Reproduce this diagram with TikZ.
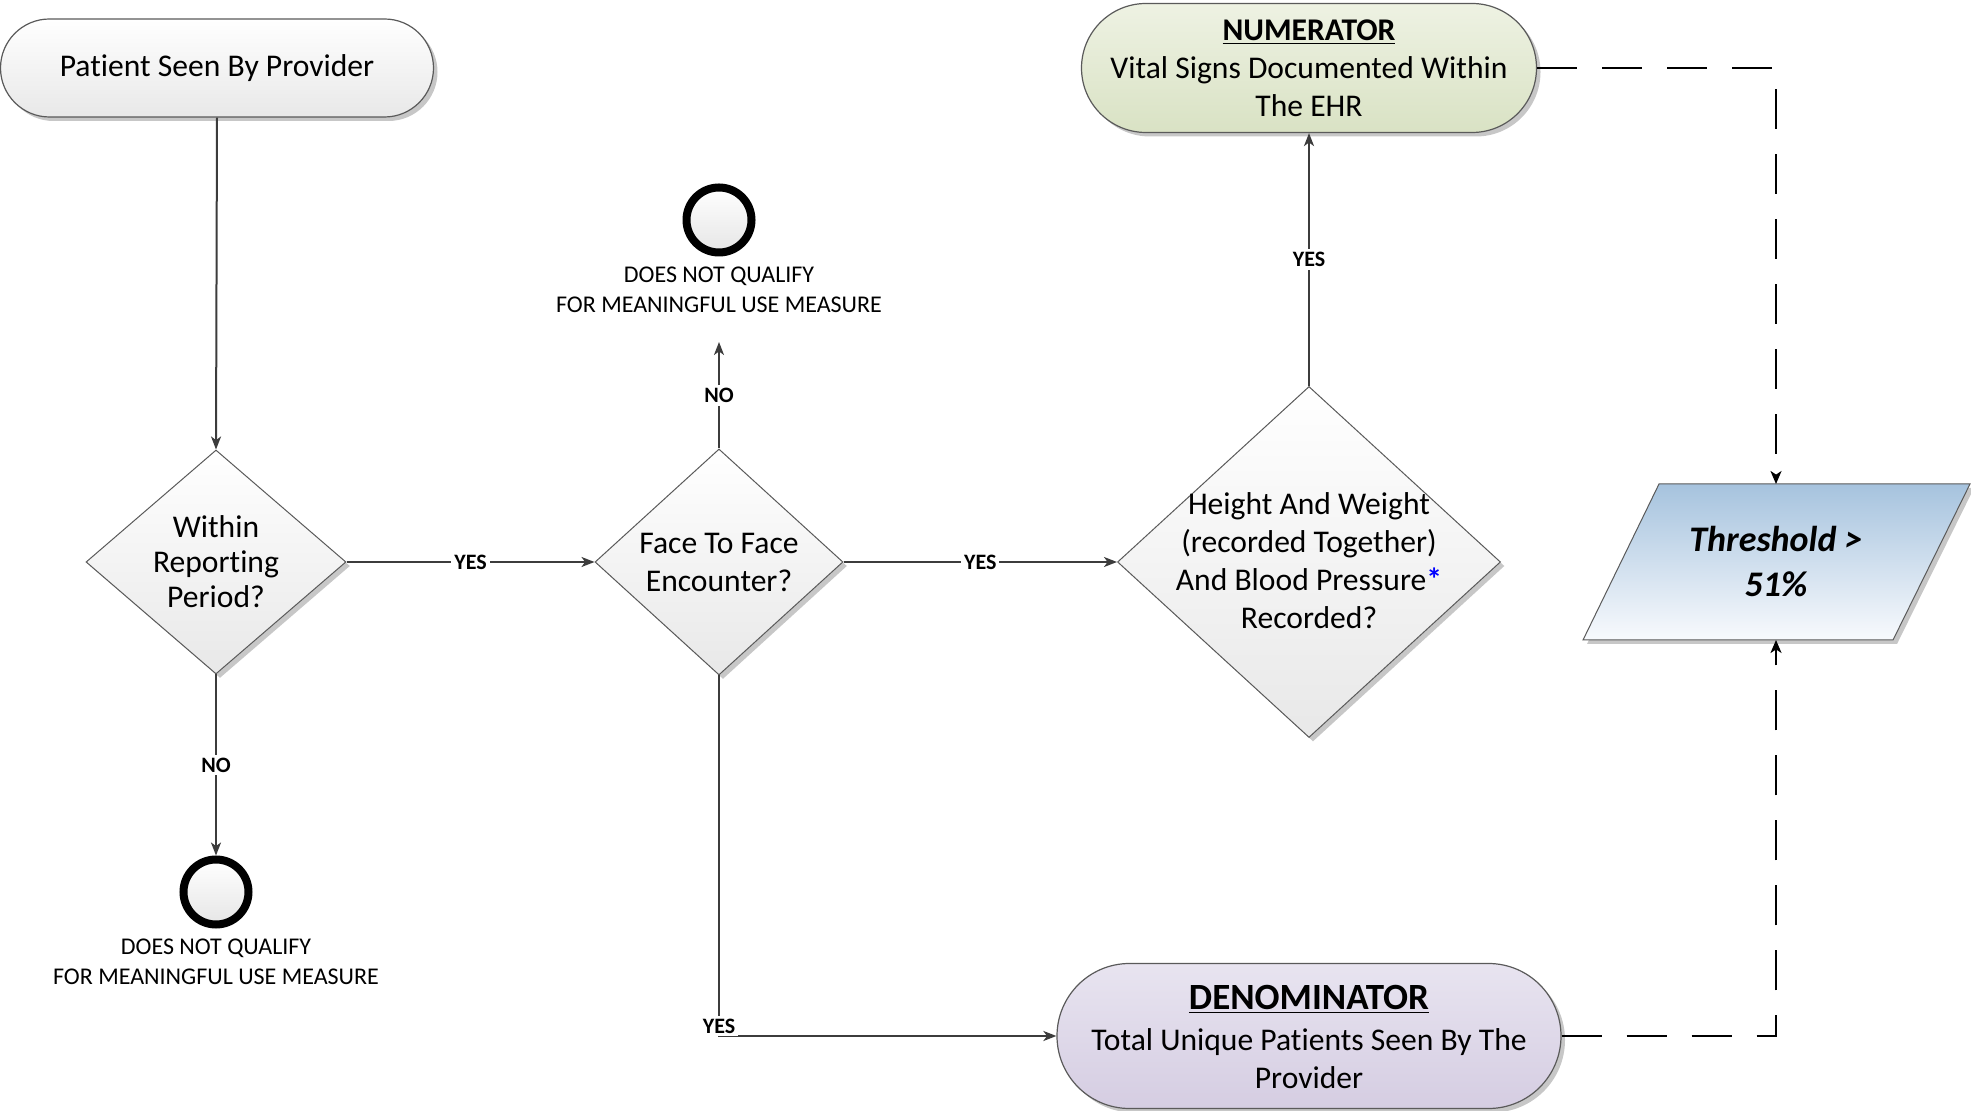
\documentclass[tikz,border=0pt]{standalone}
\usepackage{fontspec}
\setmainfont{Carlito}[Ligatures=NoCommon,RawFeature={-liga;-clig}]
\usetikzlibrary{shapes.geometric,shapes.misc,arrows.meta,shadows}
\definecolor{connc}{HTML}{3C3C3C}
\definecolor{bord}{HTML}{5A5A5A}
\definecolor{numtop}{RGB}{238,242,227}
\definecolor{numbot}{RGB}{217,226,196}
\definecolor{dentop}{RGB}{232,228,240}
\definecolor{denbot}{RGB}{213,205,226}
\definecolor{thrtopc}{RGB}{166,195,222}
\definecolor{thrbotc}{RGB}{248,250,253}
\newcommand\mainsz{\fontsize{15.8}{19}\selectfont}
\newcommand\qsz{\fontsize{12}{14.8}\selectfont}
\newcommand\lblsz{\fontsize{11}{13}\selectfont}
\begin{document}
\begin{tikzpicture}[x=0.5pt,y=-0.5pt,
  shad/.style={drop shadow={shadow xshift=2pt,shadow yshift=-2pt,opacity=0.22,fill=black}},
  term/.style={rounded rectangle, draw=bord, line width=0.6pt, inner sep=0pt, shad},
  startfill/.style={top color=white, bottom color=black!9},
  numfill/.style={top color=numtop, bottom color=numbot},
  denfill/.style={top color=dentop, bottom color=denbot},
  dia/.style={diamond, draw=bord, line width=0.5pt, inner sep=0pt, top color=white, bottom color=black!9, shad},
  txt/.style={align=center, inner sep=0pt, font=\mainsz},
  qtxt/.style={align=center, inner sep=0pt, font=\qsz},
  endc/.style={circle, draw=black, line width=4pt, minimum size=32.5pt, inner sep=0pt, top color=white, bottom color=black!10},
  conn/.style={draw=connc, line width=1pt, -{Stealth[length=6.5pt,width=5pt,inset=1.8pt]}},
  dconn/.style={draw=black, line width=1pt, dash pattern=on 20pt off 12.5pt, -{Stealth[length=6.5pt,width=5.5pt,inset=1.8pt]}},
  lbl/.style={fill=white, inner sep=1.5pt, font=\bfseries\lblsz, text=black}
]
\useasboundingbox (0,0) rectangle (1971,1111);

% start
\node[term, startfill, minimum width=216.5pt, minimum height=49pt] (start) at (217,68) {};
\node[txt] (startt) at (start) {Patient Seen By Provider};

% decision 1
\node[dia, minimum width=130pt, minimum height=112pt] (d1) at (216,562) {};
\node[txt, font=\fontsize{15.8}{17.5}\selectfont] (d1t) at (d1) {Within\\Reporting\\Period?};

% decision 2
\node[dia, minimum width=124pt, minimum height=113pt] (d2) at (719,562) {};
\node[txt] (d2t) at (d2) {Face To Face\\Encounter?};

% decision 3
\node[dia, minimum width=191.5pt, minimum height=175.5pt] (d3) at (1309,562) {};
\node[txt] (d3t) at (1309,561) {Height And Weight\\(recorded Together)\\And Blood Pressure{\bfseries\textcolor{blue}{*}}\\Recorded?};

% end circles
\node[endc] (e1) at (719,220) {};
\node[qtxt] (e1t) at (719,290) {DOES NOT QUALIFY\\FOR MEANINGFUL USE MEASURE};
\coordinate (e1in) at (719,342);
\node[endc] (e2) at (216,892) {};
\node[qtxt] (e2t) at (216,962) {DOES NOT QUALIFY\\FOR MEANINGFUL USE MEASURE};

% numerator
\node[term, numfill, minimum width=227.5pt, minimum height=64.5pt] (num) at (1309,68) {};
\node[txt] (numt) at (1309,68) {\underline{\textbf{NUMERATOR}}\\Vital Signs Documented Within\\The EHR};

% denominator
\node[term, denfill, minimum width=252pt, minimum height=72.5pt] (den) at (1309,1036) {};
\node[txt] (dent) at (1309,1037) {{\fontsize{18.5}{21}\selectfont\underline{\textbf{DENOMINATOR}}}\\[1.5pt]Total Unique Patients Seen By The\\Provider};

% threshold
\path[draw=bord, line width=0.5pt, top color=thrtopc, bottom color=thrbotc, shad]
  (1583,640) -- (1659,484) -- (1970,484) -- (1893,640) -- cycle;
\node[txt, font=\bfseries\itshape\fontsize{18}{22.5}\selectfont] (thr) at (1776,562) {Threshold >\\51\%};
\coordinate (thrtop) at (1776,484);
\coordinate (thrbot) at (1776,640);

% connectors
\draw[conn] (start.south) -- (d1.north);
\draw[conn] (d1.east) -- node[lbl]{YES} (d2.west);
\draw[conn] (d1.south) -- node[lbl]{NO} (e2.north);
\draw[conn] (d2.north) -- node[lbl]{NO} (e1in);
\draw[conn] (d2.east) -- node[lbl]{YES} (d3.west);
\draw[conn] (d3.north) -- node[lbl]{YES} (num.south);
\draw[conn] (d2.south) |- node[lbl, yshift=5pt]{YES} (den.west);
\draw[dconn] (num.east) -| (thrtop);
\draw[dconn] (den.east) -| (thrbot);
\end{tikzpicture}
\end{document}
